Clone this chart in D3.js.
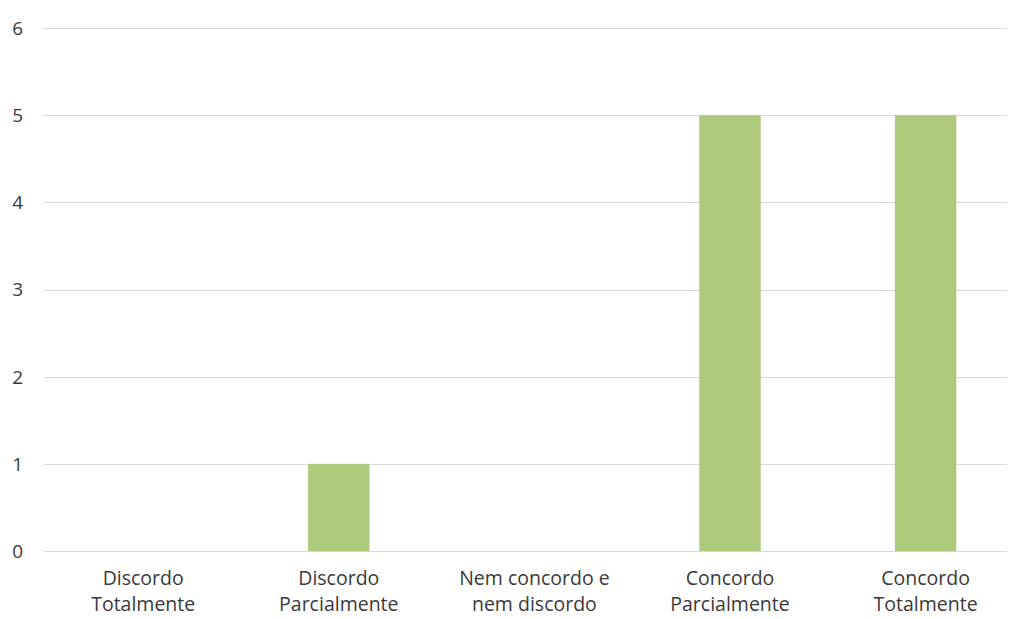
<!DOCTYPE html>
<html>
<head>
<meta charset="utf-8">
<script src="https://cdn.jsdelivr.net/npm/d3@7"></script>
<style>
  body { margin: 0; background: #fff; }
  text { font-family: "Open Sans", "Noto Sans", sans-serif; fill: #3a3a3a; }
</style>
</head>
<body>
<div id="chart"></div>
<script>
// categories and counts
const categories = [
  ['Discordo', 'Totalmente'],
  ['Discordo', 'Parcialmente'],
  ['Nem concordo e', 'nem discordo'],
  ['Concordo', 'Parcialmente'],
  ['Concordo', 'Totalmente']
];
const values = [0, 1, 0, 5, 5];
const yTicks = [0, 1, 2, 3, 4, 5, 6];

const width = 1009, height = 619;
const gridLeft = 44, gridRight = 1007;

const svg = d3.select('#chart').append('svg')
  .attr('width', width)
  .attr('height', height);

const x = d3.scaleBand()
  .domain(d3.range(categories.length))
  .range([45.4, 1023.4])
  .paddingInner(0.686)
  .paddingOuter(0.343);

const y = d3.scaleLinear()
  .domain([0, 6])
  .range([551, 28]);

// gridlines
svg.append('g')
  .selectAll('line')
  .data(yTicks)
  .join('line')
  .attr('x1', gridLeft)
  .attr('x2', gridRight)
  .attr('y1', d => Math.round(y(d)) + 0.5)
  .attr('y2', d => Math.round(y(d)) + 0.5)
  .attr('stroke', '#d9d9d9')
  .attr('stroke-width', 1);

// y tick labels
svg.append('g')
  .selectAll('text')
  .data(yTicks)
  .join('text')
  .attr('x', 23)
  .attr('y', d => y(d))
  .attr('dy', '0.36em')
  .attr('text-anchor', 'end')
  .style('font-size', '19px')
  .text(d => d);

// bars
svg.append('g')
  .selectAll('rect')
  .data(values)
  .join('rect')
  .attr('x', (d, i) => x(i))
  .attr('y', d => y(d))
  .attr('width', x.bandwidth())
  .attr('height', d => y(0) - y(d))
  .attr('fill', '#aec97b');

// category labels (two lines each)
const labels = svg.append('g')
  .selectAll('text')
  .data(categories)
  .join('text')
  .attr('text-anchor', 'middle')
  .style('font-size', '19.5px');

labels.selectAll('tspan')
  .data((d, i) => d.map(t => ({ t, i })))
  .join('tspan')
  .attr('x', d => x(d.i) + x.bandwidth() / 2)
  .attr('y', (d, j) => 585 + j * 26)
  .text(d => d.t);
</script>
</body>
</html>
